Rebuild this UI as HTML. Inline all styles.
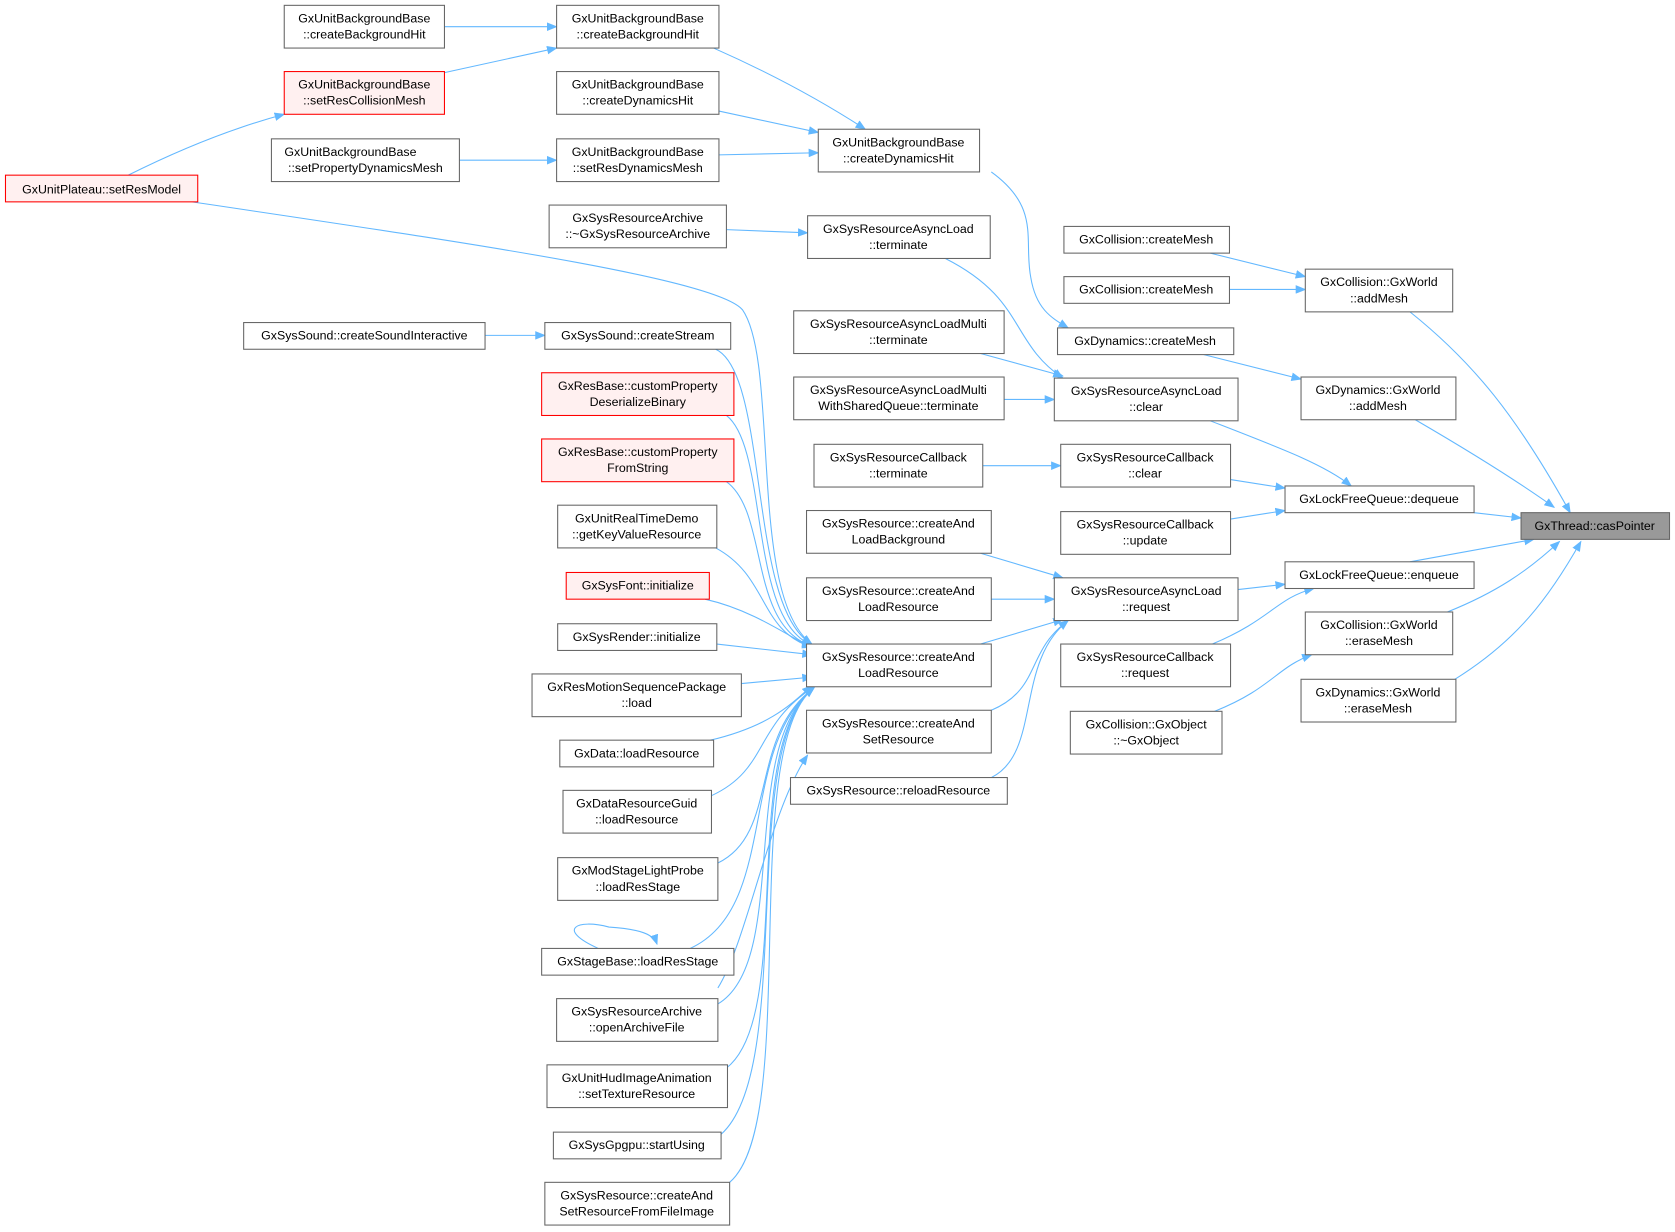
<!DOCTYPE html>
<html><head><meta charset="utf-8"><style>
html,body{margin:0;padding:0;background:#fff;}
svg{display:block}
text{font-family:"Liberation Sans",Arial,sans-serif;font-size:11.6px;fill:#000;text-anchor:middle}
.n{fill:#fff;stroke:#666;stroke-width:1}
.r{fill:#fff0f0;stroke:#ff0000;stroke-width:1}
.g{fill:#999;stroke:#666;stroke-width:1}
path.e{fill:none;stroke:#63b8ff;stroke-width:1}
</style></head><body>
<svg width="1675" height="1232" viewBox="0 0 1568 1153.5" xmlns="http://www.w3.org/2000/svg">
<defs><marker id="a" markerWidth="10" markerHeight="8" refX="9" refY="4" orient="auto" markerUnits="userSpaceOnUse"><path d="M0,0 L10,4 L0,8 z" fill="#63b8ff"/></marker></defs>
<g marker-end="url(#a)">
<path class="e" d="M416,25 L521,25"/>
<path class="e" d="M416,68 L521,45"/>
<path class="e" d="M120,164 C160,144 210,122 266,107"/>
<path class="e" d="M430,150 L521,150"/>
<path class="e" d="M668,45 C720,68 770,95 810,121"/>
<path class="e" d="M673,104 L766,124"/>
<path class="e" d="M673,145 L766,143"/>
<path class="e" d="M928,161 C975,195 958,225 965,260 C970,290 985,298 1000,307"/>
<path class="e" d="M680,215 L756,218"/>
<path class="e" d="M885,242 C960,280 945,320 995,354"/>
<path class="e" d="M180,189 C420,225 670,260 695,290 C730,340 700,560 760,603"/>
<path class="e" d="M454,314 L510,314"/>
<path class="e" d="M670,327 C720,350 700,570 760,603"/>
<path class="e" d="M680,389 C720,420 700,580 760,604"/>
<path class="e" d="M680,451 C720,480 700,585 760,605"/>
<path class="e" d="M670,513 C720,540 710,590 760,606"/>
<path class="e" d="M660,561 C700,570 730,590 760,607"/>
<path class="e" d="M671,603 L760,613"/>
<path class="e" d="M694,640 L760,634"/>
<path class="e" d="M665,693 C720,680 740,660 760,642"/>
<path class="e" d="M666,745 C720,720 705,680 762,643"/>
<path class="e" d="M672,808 C730,780 700,690 762,644"/>
<path class="e" d="M646,888 C730,850 690,700 762,644"/>
<path class="e" d="M672,940 C740,900 690,700 762,644"/>
<path class="e" d="M680,1000 C745,950 690,700 762,644"/>
<path class="e" d="M675,1062 C745,1000 690,700 762,644"/>
<path class="e" d="M683,1107 C750,1050 690,700 762,644"/>
<path class="e" d="M672,925 C700,880 720,760 756,707"/>
<path class="e" d="M560,888 C520,870 540,860 570,868 C600,870 612,875 615,884"/>
<path class="e" d="M918,331 L995,352"/>
<path class="e" d="M940,374 L987,374"/>
<path class="e" d="M920,436 L993,436"/>
<path class="e" d="M918,518 L995,541"/>
<path class="e" d="M928,561 L987,561"/>
<path class="e" d="M918,603 L995,580"/>
<path class="e" d="M928,665 C975,645 960,610 1000,581"/>
<path class="e" d="M928,728 C975,705 950,620 1000,581"/>
<path class="e" d="M1133,237 L1222,259"/>
<path class="e" d="M1151,271 L1222,271"/>
<path class="e" d="M1127,332 L1218,355"/>
<path class="e" d="M1133,394 C1200,420 1240,435 1265,455"/>
<path class="e" d="M1152,449 L1203,457"/>
<path class="e" d="M1152,486 L1203,478"/>
<path class="e" d="M1159,552 L1203,547"/>
<path class="e" d="M1135,603 C1190,580 1195,560 1230,551"/>
<path class="e" d="M1137,666 C1190,645 1195,625 1228,613"/>
<path class="e" d="M1320,292 C1380,340 1420,390 1470,480"/>
<path class="e" d="M1325,393 C1380,425 1420,450 1455,475"/>
<path class="e" d="M1380,480 L1424,485"/>
<path class="e" d="M1320,526 L1436,505"/>
<path class="e" d="M1355,573 C1400,555 1430,535 1460,507"/>
<path class="e" d="M1362,636 C1420,600 1450,560 1480,507"/>
</g>
<g>
<rect class="n" x="266" y="5" width="150" height="40"/><text x="341" y="21">GxUnitBackgroundBase</text><text x="341" y="36">::createBackgroundHit</text>
<rect class="r" x="266" y="67" width="150" height="40"/><text x="341" y="83">GxUnitBackgroundBase</text><text x="341" y="98">::setResCollisionMesh</text>
<rect class="n" x="254" y="130" width="176" height="40"/><text x="328" y="146">GxUnitBackgroundBase</text><text x="342" y="161">::setPropertyDynamicsMesh</text>
<rect class="r" x="5" y="164" width="180" height="25"/><text x="95" y="181">GxUnitPlateau::setResModel</text>
<rect class="n" x="521" y="5" width="152" height="40"/><text x="597" y="21">GxUnitBackgroundBase</text><text x="597" y="36">::createBackgroundHit</text>
<rect class="n" x="521" y="67" width="152" height="40"/><text x="597" y="83">GxUnitBackgroundBase</text><text x="597" y="98">::createDynamicsHit</text>
<rect class="n" x="521" y="130" width="152" height="40"/><text x="597" y="146">GxUnitBackgroundBase</text><text x="597" y="161">::setResDynamicsMesh</text>
<rect class="n" x="766" y="121" width="151" height="40"/><text x="841" y="137">GxUnitBackgroundBase</text><text x="841" y="152">::createDynamicsHit</text>
<rect class="n" x="514" y="192" width="166" height="40"/><text x="597" y="208">GxSysResourceArchive</text><text x="597" y="223">::~GxSysResourceArchive</text>
<rect class="n" x="756" y="202" width="171" height="40"/><text x="841" y="218">GxSysResourceAsyncLoad</text><text x="841" y="233">::terminate</text>
<rect class="n" x="228" y="302" width="226" height="25"/><text x="341" y="318">GxSysSound::createSoundInteractive</text>
<rect class="n" x="510" y="302" width="174" height="25"/><text x="597" y="318">GxSysSound::createStream</text>
<rect class="r" x="507" y="349" width="180" height="40"/><text x="597" y="365">GxResBase::customProperty</text><text x="597" y="380">DeserializeBinary</text>
<rect class="r" x="507" y="411" width="180" height="40"/><text x="597" y="427">GxResBase::customProperty</text><text x="597" y="442">FromString</text>
<rect class="n" x="522" y="473" width="149" height="40"/><text x="596" y="489">GxUnitRealTimeDemo</text><text x="596" y="504">::getKeyValueResource</text>
<rect class="r" x="530" y="536" width="134" height="25"/><text x="597" y="552">GxSysFont::initialize</text>
<rect class="n" x="522" y="584" width="149" height="25"/><text x="596" y="600">GxSysRender::initialize</text>
<rect class="n" x="498" y="631" width="196" height="40"/><text x="596" y="647">GxResMotionSequencePackage</text><text x="596" y="662">::load</text>
<rect class="n" x="524" y="693" width="144" height="25"/><text x="596" y="709">GxData::loadResource</text>
<rect class="n" x="527" y="740" width="139" height="40"/><text x="596" y="756">GxDataResourceGuid</text><text x="596" y="771">::loadResource</text>
<rect class="n" x="522" y="803" width="150" height="40"/><text x="597" y="819">GxModStageLightProbe</text><text x="597" y="834">::loadResStage</text>
<rect class="n" x="507" y="888" width="180" height="25"/><text x="597" y="904">GxStageBase::loadResStage</text>
<rect class="n" x="521" y="935" width="151" height="40"/><text x="596" y="951">GxSysResourceArchive</text><text x="596" y="966">::openArchiveFile</text>
<rect class="n" x="512" y="997" width="169" height="40"/><text x="596" y="1013">GxUnitHudImageAnimation</text><text x="596" y="1028">::setTextureResource</text>
<rect class="n" x="518" y="1060" width="157" height="25"/><text x="596" y="1076">GxSysGpgpu::startUsing</text>
<rect class="n" x="510" y="1107" width="173" height="40"/><text x="596" y="1123">GxSysResource::createAnd</text><text x="596" y="1138">SetResourceFromFileImage</text>
<rect class="n" x="743" y="291" width="197" height="40"/><text x="841" y="307">GxSysResourceAsyncLoadMulti</text><text x="841" y="322">::terminate</text>
<rect class="n" x="743" y="353" width="197" height="40"/><text x="841" y="369">GxSysResourceAsyncLoadMulti</text><text x="841" y="384">WithSharedQueue::terminate</text>
<rect class="n" x="762" y="416" width="158" height="40"/><text x="841" y="432">GxSysResourceCallback</text><text x="841" y="447">::terminate</text>
<rect class="n" x="755" y="478" width="173" height="40"/><text x="841" y="494">GxSysResource::createAnd</text><text x="841" y="509">LoadBackground</text>
<rect class="n" x="755" y="541" width="173" height="40"/><text x="841" y="557">GxSysResource::createAnd</text><text x="841" y="572">LoadResource</text>
<rect class="n" x="755" y="603" width="173" height="40"/><text x="841" y="619">GxSysResource::createAnd</text><text x="841" y="634">LoadResource</text>
<rect class="n" x="755" y="665" width="173" height="40"/><text x="841" y="681">GxSysResource::createAnd</text><text x="841" y="696">SetResource</text>
<rect class="n" x="740" y="728" width="203" height="25"/><text x="841" y="744">GxSysResource::reloadResource</text>
<rect class="n" x="996" y="212" width="155" height="25"/><text x="1073" y="228">GxCollision::createMesh</text>
<rect class="n" x="996" y="259" width="155" height="25"/><text x="1073" y="275">GxCollision::createMesh</text>
<rect class="n" x="990" y="307" width="165" height="25"/><text x="1072" y="323">GxDynamics::createMesh</text>
<rect class="n" x="987" y="354" width="172" height="40"/><text x="1073" y="370">GxSysResourceAsyncLoad</text><text x="1073" y="385">::clear</text>
<rect class="n" x="993" y="416" width="159" height="40"/><text x="1072" y="432">GxSysResourceCallback</text><text x="1072" y="447">::clear</text>
<rect class="n" x="993" y="479" width="159" height="40"/><text x="1072" y="495">GxSysResourceCallback</text><text x="1072" y="510">::update</text>
<rect class="n" x="987" y="541" width="172" height="40"/><text x="1073" y="557">GxSysResourceAsyncLoad</text><text x="1073" y="572">::request</text>
<rect class="n" x="993" y="603" width="159" height="40"/><text x="1072" y="619">GxSysResourceCallback</text><text x="1072" y="634">::request</text>
<rect class="n" x="1002" y="666" width="142" height="40"/><text x="1073" y="682">GxCollision::GxObject</text><text x="1073" y="697">::~GxObject</text>
<rect class="n" x="1222" y="252" width="138" height="40"/><text x="1291" y="268">GxCollision::GxWorld</text><text x="1291" y="283">::addMesh</text>
<rect class="n" x="1218" y="353" width="145" height="40"/><text x="1290" y="369">GxDynamics::GxWorld</text><text x="1290" y="384">::addMesh</text>
<rect class="n" x="1203" y="455" width="177" height="25"/><text x="1291" y="471">GxLockFreeQueue::dequeue</text>
<rect class="n" x="1203" y="526" width="177" height="25"/><text x="1291" y="542">GxLockFreeQueue::enqueue</text>
<rect class="n" x="1222" y="573" width="138" height="40"/><text x="1291" y="589">GxCollision::GxWorld</text><text x="1291" y="604">::eraseMesh</text>
<rect class="n" x="1218" y="636" width="145" height="40"/><text x="1290" y="652">GxDynamics::GxWorld</text><text x="1290" y="667">::eraseMesh</text>
<rect class="g" x="1424" y="480" width="139" height="25"/><text x="1493" y="496">GxThread::casPointer</text>
</g>
</svg>
</body></html>
